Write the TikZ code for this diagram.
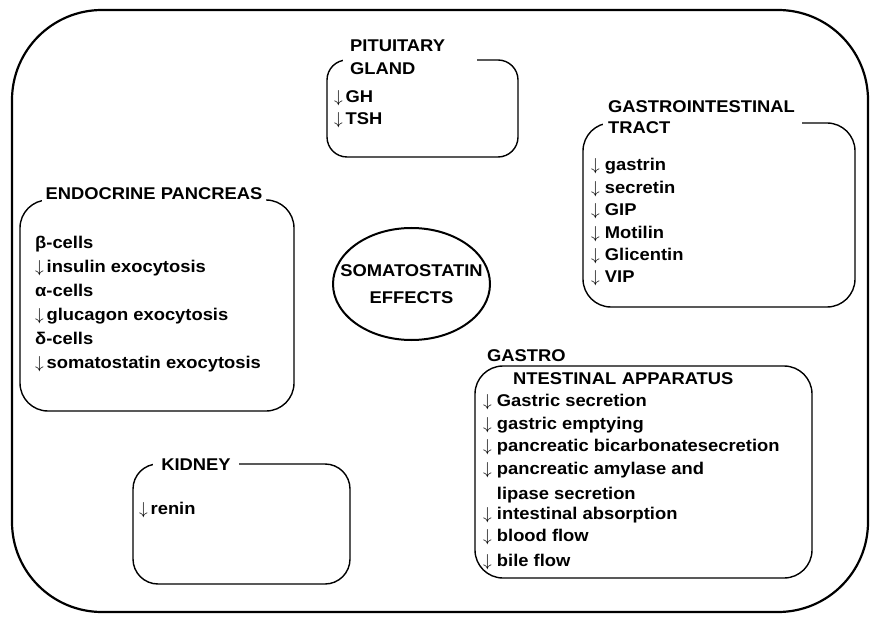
\documentclass[tikz,border=0pt]{standalone}
\usepackage{fontspec}
\setmainfont{Liberation Sans}[FakeStretch=1.08]
\usetikzlibrary{shapes.geometric}
\newcommand{\dn}{$\downarrow$}

\begin{document}
\begin{tikzpicture}[
  x=1pt, y=-1pt,
  font=\fontsize{17}{23}\selectfont\bfseries,
  panel/.style={rectangle, draw, line width=1.4pt, rounded corners=28pt, inner sep=0pt},
  heading/.style={fill=white, inner xsep=4pt, inner ysep=3pt, align=left},
  entry/.style={anchor=base west, inner sep=0pt}
]
  \useasboundingbox (0,0) rectangle (872,617);

  % outer frame and the central ellipse
  \node[panel, line width=2.2pt, rounded corners=90pt, minimum width=856pt, minimum height=602pt] (frame) at (440,311) {};
  \node[ellipse, draw, line width=2pt, minimum width=157pt, minimum height=112pt] (core) at (411.5,284) {};
  \node[align=center, font=\fontsize{17}{27}\selectfont\bfseries] (coretext) at (core) {SOMATOSTATIN\\EFFECTS};

  % the five target panels
  \node[panel, rounded corners=20pt, minimum width=191pt, minimum height=97pt] (pit) at (422.5,108.5) {};
  \node[panel, minimum width=272pt, minimum height=184pt] (git) at (719,215) {};
  \node[panel, minimum width=274pt, minimum height=211pt] (endo) at (157,305.5) {};
  \node[panel, rounded corners=25pt, minimum width=217pt, minimum height=120pt] (kid) at (241.5,524) {};
  \node[panel, minimum width=337pt, minimum height=212pt] (gia) at (643.5,472) {};

  % headings sit on the top border
  \node[heading, anchor=west, text width=120pt, inner xsep=7pt] (pittitle) at (343,57.5) {PITUITARY\\GLAND};
  \node[heading, anchor=west, text width=189pt, inner xsep=5pt, font=\fontsize{17}{21}\selectfont\bfseries] (gittitle) at (603,117.5) {GASTROINTESTINAL\\TRACT};
  \node[heading] (endotitle) at (154,193.5) {ENDOCRINE PANCREAS};
  \node[heading, inner xsep=8pt] (kidtitle) at (196,465) {KIDNEY};
  \node[entry] (giatitle) at (487,361) {GASTRO};
  \node[heading, anchor=west, text width=234pt, inner xsep=10pt] (giatitle2) at (503,378.5) {NTESTINAL APPARATUS};

  % entries
  \foreach \t [count=\i] in {GH, TSH}
    \node[entry] (pit\i) at (334,81+22*\i) {\dn\,\t};
  \foreach \t [count=\i] in {gastrin, secretin, GIP, Motilin, Glicentin, VIP}
    \node[entry] (git\i) at (591,148.6+22.4*\i) {\dn\ \t};
  \foreach \t [count=\i] in {{β-cells}, {\dn\,insulin exocytosis}, {α-cells}, {\dn\,glucagon exocytosis}, {δ-cells}, {\dn\,somatostatin exocytosis}}
    \node[entry] (endo\i) at (35,225.2+23.8*\i) {\t};
  \node[entry] (kid1) at (139,514) {\dn\,renin};
  \foreach \y/\t [count=\i] in {406/{\dn\ Gastric secretion}, 429/{\dn\ gastric emptying}, 451/{\dn\ pancreatic bicarbonatesecretion}, 474/{\dn\ pancreatic amylase and}, 499/{\phantom{\dn\ }lipase secretion}, 519/{\dn\ intestinal absorption}, 541/{\dn\ blood flow}, 566/{\dn\ bile flow}}
    \node[entry] (gia\i) at (483,\y) {\t};
\end{tikzpicture}
\end{document}
